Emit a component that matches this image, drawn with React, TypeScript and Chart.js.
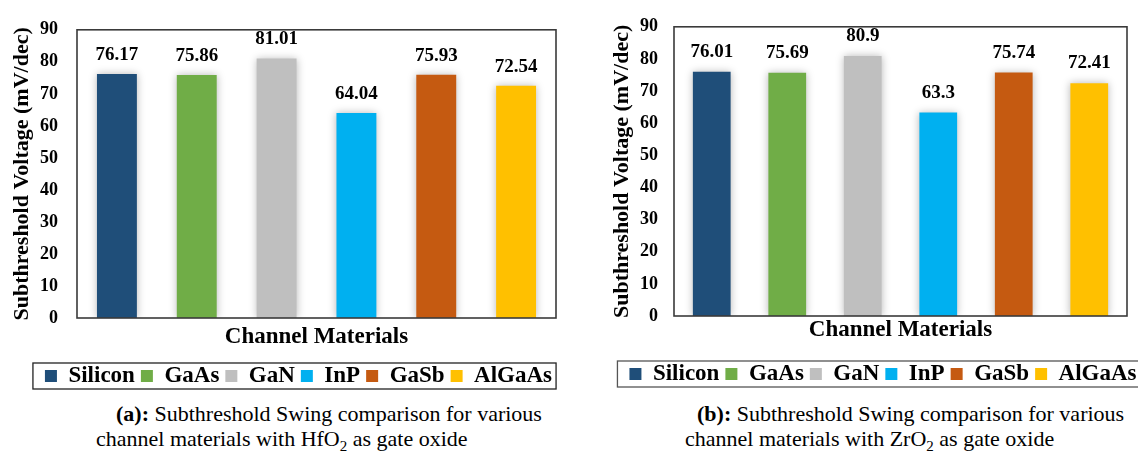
import React, { useEffect, useRef } from 'react';
import { Chart, registerables } from 'chart.js';

Chart.register(...registerables);

// ---- data ----
const materials = ['Silicon', 'GaAs', 'GaN', 'InP', 'GaSb', 'AlGaAs'];
const materialColors = ['#1F4E79', '#70AD47', '#BFBFBF', '#00B0F0', '#C55A11', '#FFC000'];
const hfo2Values = [76.17, 75.86, 81.01, 64.04, 75.93, 72.54];
const zro2Values = [76.01, 75.69, 80.9, 63.3, 75.74, 72.41];
const categoryLabels = [''];
const yMin = 0;
const yMax = 90;
const yStep = 10;
const yTitle = 'Subthreshold Voltage (mV/dec)';
const xTitle = 'Channel Materials';

const FONT = "'Liberation Serif', 'Times New Roman', serif";

type PanelCfg = {
  left: number;
  width: number;
  height: number;
  values: number[];
  yAxisWidth: number;
  yTitlePad: number;
  tickPad: number;
  padTop: number;
  padRight: number;
  padBottom: number;
  xAxisHeight: number;
  xTitlePadBottom: number;
  legendCenter: number;
  labelOffset: number;
  legendBorder: string;
};

const panelA: PanelCfg = {
  left: 0, width: 569, height: 400, values: hfo2Values,
  yAxisWidth: 77, yTitlePad: 8.8, tickPad: 19,
  padTop: 16, padRight: 13, padBottom: 2.5,
  xAxisHeight: 40.5, xTitlePadBottom: 7.7,
  legendCenter: 298.5, labelOffset: 19, legendBorder: '#222',
};

const panelB: PanelCfg = {
  left: 569, width: 569, height: 400, values: zro2Values,
  yAxisWidth: 105, yTitlePad: 39.8, tickPad: 16,
  padTop: 17, padRight: 11, padBottom: 4.5,
  xAxisHeight: 40.5, xTitlePadBottom: 12.7,
  legendCenter: 883, labelOffset: 20, legendBorder: '#555',
};

function makePlugin(cfg: PanelCfg) {
  return {
    id: 'panelDecor',
    afterLayout(chart: any) {
      const lg = chart.legend;
      if (!lg) return;
      const c = (lg.left + lg.right) / 2;
      const dx = cfg.legendCenter - cfg.left - c;
      lg.left += dx;
      lg.right += dx;
    },
    beforeDatasetsDraw(chart: any) {
      const ctx = chart.ctx;
      ctx.save();
      ctx.shadowColor = 'rgba(0,0,0,0.28)';
      ctx.shadowBlur = 8;
      ctx.shadowOffsetX = 0;
      ctx.shadowOffsetY = 0;
    },
    afterDatasetsDraw(chart: any) {
      const ctx = chart.ctx;
      ctx.restore();
      ctx.save();
      ctx.font = `bold 19px ${FONT}`;
      ctx.fillStyle = '#000';
      ctx.textAlign = 'center';
      ctx.textBaseline = 'middle';
      chart.data.datasets.forEach((ds: any, i: number) => {
        const meta = chart.getDatasetMeta(i);
        const el = meta.data[0];
        if (!el) return;
        ctx.fillText(String(ds.data[0]), el.x, el.y - cfg.labelOffset);
      });
      ctx.restore();
    },
    afterDraw(chart: any) {
      const ctx = chart.ctx;
      const a = chart.chartArea;
      ctx.save();
      ctx.strokeStyle = '#3a3a3a';
      ctx.lineWidth = 1.6;
      ctx.strokeRect(a.left, a.top, a.right - a.left, a.bottom - a.top);
      const lg = chart.legend;
      if (lg && lg.legendHitBoxes && lg.legendHitBoxes.length) {
        const hbs = lg.legendHitBoxes;
        const minX = Math.min(...hbs.map((h: any) => h.left));
        const maxX = Math.max(...hbs.map((h: any) => h.left + h.width));
        const cy = hbs[0].top + hbs[0].height / 2;
        ctx.strokeStyle = cfg.legendBorder;
        ctx.lineWidth = 1.3;
        ctx.strokeRect(minX - 12, cy - 13, maxX - minX + 16, 26);
      }
      ctx.restore();
    },
  };
}

function Panel({ cfg }: { cfg: PanelCfg }) {
  const ref = useRef<HTMLCanvasElement | null>(null);
  useEffect(() => {
    if (!ref.current) return;
    const chart = new Chart(ref.current, {
      type: 'bar',
      data: {
        labels: categoryLabels,
        datasets: materials.map((m, i) => ({
          label: m,
          data: [cfg.values[i]],
          backgroundColor: materialColors[i],
          borderWidth: 0,
          categoryPercentage: 1,
          barPercentage: 0.5,
        })),
      },
      options: {
        responsive: false,
        animation: false,
        layout: { padding: { left: 0, top: cfg.padTop, right: cfg.padRight, bottom: cfg.padBottom } },
        scales: {
          x: {
            grid: { display: false, drawTicks: false },
            border: { display: false },
            ticks: { display: false },
            title: {
              display: true,
              text: xTitle,
              color: '#000',
              font: { family: FONT, size: 23, weight: 'bold' },
              padding: { top: 0, bottom: cfg.xTitlePadBottom },
            },
            afterFit: (s: any) => { s.height = cfg.xAxisHeight; },
          },
          y: {
            min: yMin,
            max: yMax,
            ticks: {
              stepSize: yStep,
              color: '#000',
              padding: cfg.tickPad,
              font: { family: FONT, size: 18, weight: 'bold' },
            },
            grid: { display: false, drawTicks: false },
            border: { display: false },
            title: {
              display: true,
              text: yTitle,
              color: '#000',
              font: { family: FONT, size: 22, weight: 'bold' },
              padding: { top: cfg.yTitlePad, bottom: 0 },
            },
            afterFit: (s: any) => { s.width = cfg.yAxisWidth; },
          },
        },
        plugins: {
          legend: {
            position: 'bottom',
            labels: {
              color: '#000',
              font: { family: FONT, size: 23, weight: 'bold' },
              boxWidth: 12,
              boxHeight: 12,
              padding: 6,
            },
          },
          tooltip: { enabled: false },
        },
      } as any,
      plugins: [makePlugin(cfg)],
    });
    return () => chart.destroy();
  }, [cfg]);
  return (
    <canvas
      ref={ref}
      width={cfg.width}
      height={cfg.height}
      style={{ position: 'absolute', left: cfg.left, top: 0, width: cfg.width, height: cfg.height }}
    />
  );
}

const captionStyle: React.CSSProperties = {
  position: 'absolute',
  fontFamily: FONT,
  fontSize: 22,
  lineHeight: '26px',
  whiteSpace: 'nowrap',
  color: '#000',
};

export default function App() {
  return (
    <div style={{ position: 'absolute', left: 0, top: 0, width: 1138, height: 457, background: '#fff', overflow: 'hidden' }}>
      <Panel cfg={panelA} />
      <Panel cfg={panelB} />
      <div style={{ ...captionStyle, left: 116, top: 401 }}>
        <b>(a):</b> Subthreshold Swing comparison for various
      </div>
      <div style={{ ...captionStyle, left: 96, top: 426 }}>
        channel materials with HfO<sub style={{ fontSize: 15, lineHeight: 0 }}>2</sub> as gate oxide
      </div>
      <div style={{ ...captionStyle, left: 697, top: 401 }}>
        <b>(b):</b> Subthreshold Swing comparison for various
      </div>
      <div style={{ ...captionStyle, left: 685, top: 426 }}>
        channel materials with ZrO<sub style={{ fontSize: 15, lineHeight: 0 }}>2</sub> as gate oxide
      </div>
    </div>
  );
}
